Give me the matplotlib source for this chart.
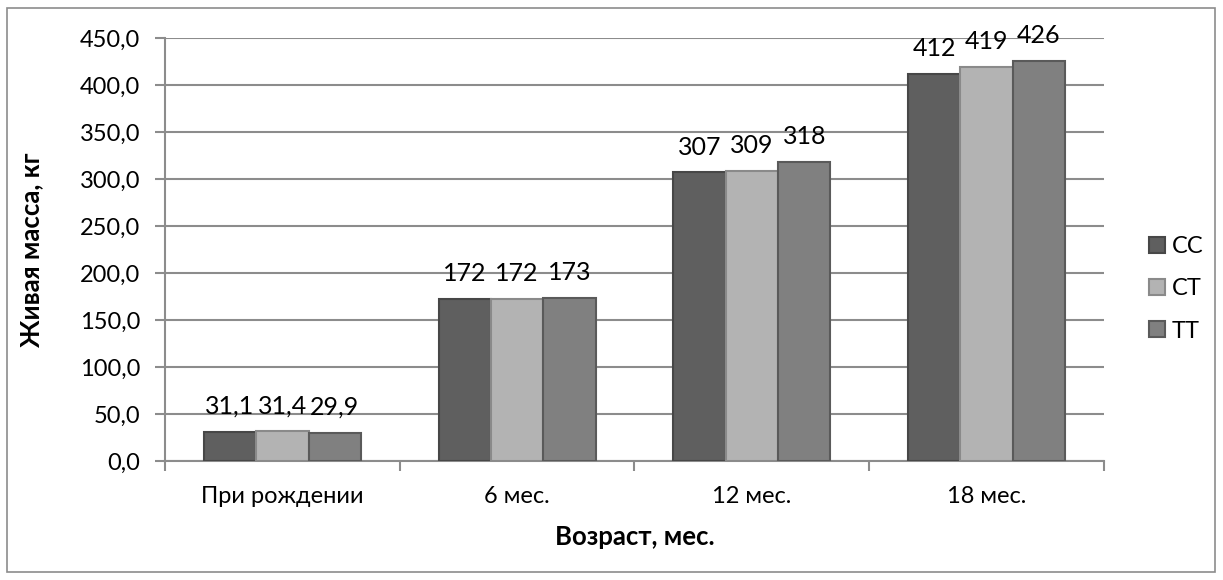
import numpy as np
import matplotlib.pyplot as plt
from matplotlib.patches import Rectangle

plt.rcParams['font.family'] = ['Lato', 'DejaVu Sans']

categories = ['При рождении', '6 мес.', '12 мес.', '18 мес.']
genotypes = ['CC', 'CT', 'TT']
cc = [31.1, 172, 307, 412]
ct = [31.4, 172, 309, 419]
tt = [29.9, 173, 318, 426]
value_labels = [['31,1', '172', '307', '412'],
                ['31,4', '172', '309', '419'],
                ['29,9', '173', '318', '426']]

colors = ['#5f5f5f', '#b3b3b3', '#808080']
edges = ['#474747', '#8a8a8a', '#5a5a5a']

fig = plt.figure(figsize=(12.23, 5.8), dpi=100)
ax = fig.add_axes([0.1349, 0.2052, 0.9027 - 0.1349, 0.9345 - 0.2052])

# рамка вокруг всей диаграммы
fig.patches.append(Rectangle((7 / 1223, 8 / 580), 1208 / 1223, 564 / 580,
                             transform=fig.transFigure, fill=False,
                             edgecolor='#8c8c8c', linewidth=1.2))

x = np.arange(len(categories))
w = 0.223
for i, (vals, c, e) in enumerate(zip([cc, ct, tt], colors, edges)):
    pos = x + (i - 1) * w
    ax.bar(pos, vals, width=w, color=c, edgecolor=e, linewidth=1.5,
           label=genotypes[i], zorder=3)
    for p, v, t in zip(pos, vals, value_labels[i]):
        ax.annotate(t, (p, v), xytext=(0, 10), textcoords='offset points',
                    ha='center', va='bottom', fontsize=18)

ax.set_xlim(-0.5, len(categories) - 0.5)
ax.set_ylim(0, 450)
ax.set_yticks(np.arange(0, 451, 50))
ax.set_yticklabels([f'{v:.1f}'.replace('.', ',') for v in np.arange(0, 451, 50)],
                   fontsize=17)
ax.yaxis.grid(True, color='#8c8c8c', linewidth=1.5, zorder=0)
ax.set_axisbelow(True)

ax.set_xticks(np.arange(-0.5, len(categories)), minor=False)
ax.set_xticklabels([])
ax.set_xticks(x, minor=True)
ax.set_xticklabels(categories, minor=True, fontsize=17)
ax.tick_params(axis='x', which='minor', length=0, pad=18)
ax.tick_params(axis='x', which='major', length=7, width=1.5, color='#8c8c8c')
ax.tick_params(axis='y', length=7, width=1.5, color='#8c8c8c', pad=11)

for s in ['top', 'right']:
    ax.spines[s].set_visible(False)
for s in ['left', 'bottom']:
    ax.spines[s].set_color('#8c8c8c')
    ax.spines[s].set_linewidth(1.5)

ax.set_xlabel('Возраст, мес.', fontsize=18.5, fontweight='bold', labelpad=13)
ax.set_ylabel('Живая масса, кг', fontsize=18.5, fontweight='bold', labelpad=26)

fig.legend(*ax.get_legend_handles_labels(), loc='center left',
           bbox_to_anchor=(0.932, 0.502), frameon=False,
           fontsize=17, handlelength=0.65, handleheight=0.65, handletextpad=0.3,
           labelspacing=0.9, borderaxespad=0)

fig.savefig('out.png', dpi=100)
